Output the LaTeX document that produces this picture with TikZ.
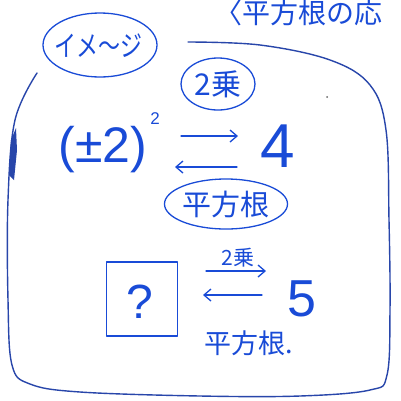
\documentclass[tikz,border=0pt]{standalone}
\usepackage{fontspec}
\usetikzlibrary{shapes.geometric,arrows.meta}
\newfontfamily\jp{Noto Sans CJK JP}
\setmainfont{Liberation Sans}
\definecolor{ink}{RGB}{25,75,215}
\definecolor{frame}{RGB}{40,70,170}
\begin{document}
\begin{tikzpicture}[x=1pt,y=-1pt,
  pen/.style={draw=ink,line width=1.3pt,line cap=round,line join=round},
  fr/.style={draw=frame,line width=1.4pt,line cap=round,line join=round},
  lbl/.style={text=ink,inner sep=0pt},
  arr/.style={pen,-{Straight Barb[length=7pt,width=12pt]}}]
\useasboundingbox (0,0) rectangle (401,400);
\fill[white] (0,0) rectangle (401,400);
\begin{scope}
\clip (0,0) rectangle (401,400);
% frame
\draw[fr] plot[smooth,tension=0.6] coordinates {(188,42) (260,45) (330,60) (370,85) (386,130) (389,220) (390,310) (387,375) (370,390) (300,396) (200,396) (80,392) (30,384) (12,365) (8,300) (8,200) (15,120) (37,73)};
\fill[frame] (9,175) -- (11,140) -- (16,128) -- (17,150) -- (14,180) -- cycle;
% top-right heading
\node[lbl,anchor=west,font=\jp\fontsize{28}{28}\selectfont] (head) at (214,13) {〈平方根の応};
% イメージ oval
\draw[pen] (100,45) ellipse [x radius=57,y radius=32];
\node[lbl,font=\jp\fontsize{22}{22}\selectfont,yscale=1.3] (img) at (98,46) {イメ〜ジ};
% 2乗 oval
\node[pen,ellipse,minimum width=74pt,minimum height=52pt,inner sep=0pt,font=\jp\fontsize{30}{30}\selectfont,text=ink] (sq1) at (218,84) {2乗};
% (±2)^2
\node[lbl,font=\fontsize{50}{50}\selectfont] (pm) at (103,150) {(±2)};
\node[lbl,font=\fontsize{17}{17}\selectfont] (sup) at (155,119) {2};
\node[lbl,font=\fontsize{62}{62}\selectfont] (four) at (278,146) {4};
\coordinate (a1s) at (181,136); \coordinate (a1e) at (238,136);
\draw[arr] (a1s) -- (a1e);
\coordinate (a2s) at (237,167); \coordinate (a2e) at (175,167);
\draw[arr] (a2s) -- (a2e);
% 平方根 oval
\node[pen,ellipse,minimum width=100pt,minimum height=50pt,inner sep=0pt,font=\jp\fontsize{29}{29}\selectfont,text=ink] (sqrt1) at (226,204) {平方根};
% lower part
\node[lbl,font=\jp\fontsize{21}{21}\selectfont] (sq2) at (238,258) {2乗};
\coordinate (b1s) at (206,271); \coordinate (b1e) at (266,271);
\draw[arr] (b1s) -- (b1e);
\node[pen,minimum width=71pt,minimum height=74pt,inner sep=0pt] (box) at (142,299) {};
\node[lbl,font=\fontsize{48}{48}\selectfont] (q) at (140,302) {?};
\coordinate (b2s) at (262,295); \coordinate (b2e) at (203,295);
\draw[arr] (b2s) -- (b2e);
\node[lbl,font=\fontsize{52}{52}\selectfont] (five) at (302,299) {5};
\node[lbl,font=\jp\fontsize{27}{27}\selectfont] (sqrt2) at (249,343) {平方根.};
\fill[black!60] (327,97) circle (1pt);
\end{scope}
\end{tikzpicture}
\end{document}
